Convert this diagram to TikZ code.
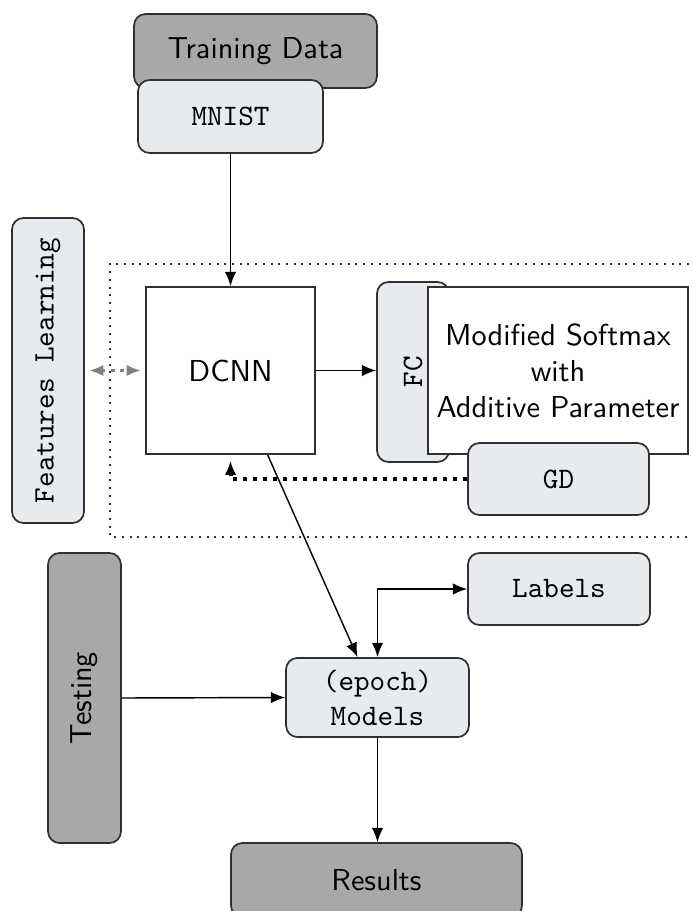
\documentclass[tikz,border=0pt]{standalone}
\usepackage{graphicx}
\usetikzlibrary{arrows.meta,positioning}
\definecolor{darkfill}{HTML}{A8A8A8}
\definecolor{lightfill}{HTML}{E7EAEE}
\definecolor{edge}{HTML}{303030}
\tikzset{
darkbox/.style={
  draw=edge,
  fill=darkfill,
  rounded corners=4pt,
  line width=0.6pt,
  font=\sffamily\fontsize{10.6}{12.6}\selectfont,
  inner sep=2pt
  },
lightbox/.style={
  draw=edge,
  fill=lightfill,
  rounded corners=4pt,
  line width=0.6pt,
  font=\ttfamily\fontsize{10.4}{12.4}\selectfont,
  align=center,
  inner sep=2pt
  },
plainbox/.style={
  draw=edge,
  fill=white,
  line width=0.6pt,
  font=\sffamily\fontsize{10.6}{12.6}\selectfont,
  align=center
  },
flow/.style={->, line width=0.5pt},
feedback/.style={->, line width=1.4pt, dash pattern=on 1.6pt off 1.9pt, shorten >=2pt}
}

\begin{document}
\begin{tikzpicture}[x=0.35pt, y=-0.35pt, >={Latex[length=5pt,width=4pt]}]
\useasboundingbox (0,0) rectangle (692,911);

% dotted frame round the training part
\draw[dotted, line width=0.7pt, edge] (720,264) -| (110,537) -- (720,537);

\node[darkbox, minimum width=85pt, minimum height=25.9pt]
  (train) at (255.5,51) {Training Data};
\node[lightbox, minimum width=64.75pt, minimum height=25.5pt]
  (mnist) at (230.5,116.5) {MNIST};

\node[lightbox, minimum width=25.2pt, minimum height=106.75pt]
  (feat) at (48,370.5) {\rotatebox{90}{Features Learning}};
\node[plainbox, minimum width=59.15pt, minimum height=58.45pt]
  (dcnn) at (230.5,370.5) {DCNN};

\node[lightbox, minimum width=25.2pt, minimum height=63pt]
  (fc) at (413,372) {\rotatebox{90}{FC}};
\node[plainbox, minimum width=91pt, minimum height=58.45pt, inner sep=2pt]
  (softmax) at (558,370.5) {Modified Softmax\\with\\Additive Parameter};
\node[lightbox, minimum width=63.35pt, minimum height=25.2pt]
  (gd) at (558.5,479) {GD};

\node[darkbox, minimum width=25.5pt, minimum height=101.5pt]
  (test) at (84.5,698) {\rotatebox{90}{Testing}};
\node[lightbox, minimum width=64pt, minimum height=27.7pt]
  (models) at (377.5,697.5) {(epoch)\\Models};
\node[lightbox, minimum width=63.7pt, minimum height=25.2pt]
  (labels) at (559,589) {Labels};
\node[darkbox, minimum width=101.85pt, minimum height=25.9pt]
  (results) at (376.5,880) {Results};

% connectors
\draw[flow] (mnist) -- (dcnn);
\draw[flow] (dcnn.east) -- (dcnn.east -| fc.west);
\draw[<->, dotted, gray, line width=1.2pt, shorten <=1.5pt, shorten >=1.5pt]
  (feat.east) -- (dcnn.west);
\draw[feedback] (gd.west) -| (dcnn.south);
\draw[flow] ([xshift=13pt]dcnn.south) -- ([xshift=-7pt]models.north);
\draw[<->, line width=0.5pt] (models.north) |- (labels.west);
\draw[flow] (test.east) -- (models.west);
\draw[flow] (models.south) -- (models.south |- results.north);
\end{tikzpicture}
\end{document}
